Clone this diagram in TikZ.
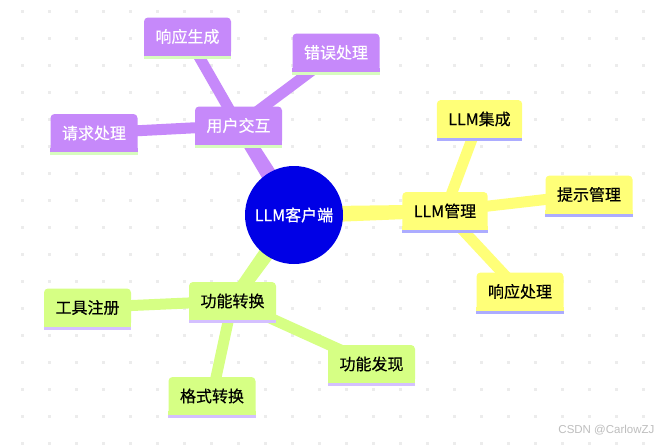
\documentclass[tikz,border=0pt]{standalone}
\usepackage{fontspec}
\newfontfamily\cjk[FakeBold=0.4]{Noto Sans CJK SC}
\newfontfamily\wmfont{Liberation Sans}
\usetikzlibrary{calc,backgrounds}
\definecolor{mpurple}{RGB}{198,137,250}
\definecolor{myellow}{RGB}{255,255,120}
\definecolor{mgreen}{RGB}{214,255,132}
\definecolor{ulgreen}{RGB}{215,252,190}
\definecolor{ullav}{RGB}{172,172,255}
\definecolor{ulpurp}{RGB}{212,192,255}
\definecolor{mblue}{RGB}{0,0,230}
\definecolor{dotgray}{RGB}{236,236,236}
\definecolor{wmgray}{RGB}{190,190,190}
\newcommand\mmtaper[5]{\fill[#5] ($(#1.center)!#3!90:(#2.center)$) -- ($(#1.center)!#3!-90:(#2.center)$) -- ($(#2.center)!#4!90:(#1.center)$) -- ($(#2.center)!#4!-90:(#1.center)$) -- cycle;}
\newcommand\mmunder[3]{\fill[#2] ([yshift=4pt]#1.south west) rectangle (#1.south east);
  \fill[#3] (#1.south west) rectangle ([yshift=-3pt]#1.south east);}
\begin{document}
\begin{tikzpicture}[x=1pt,y=-1pt,
  box/.style={rectangle, rounded corners=4pt, minimum height=38pt, inner xsep=11.5pt, inner ysep=0pt, font=\cjk\fontsize{16}{18}\selectfont},
  pbox/.style={box, fill=mpurple, text=white},
  ybox/.style={box, fill=myellow, text=black},
  gbox/.style={box, fill=mgreen, text=black},
  rootnode/.style={circle, fill=mblue, minimum size=98pt, inner sep=0pt, text=white, font=\cjk\fontsize{16}{18}\selectfont},
  childedge/.style={line width=11pt, line cap=butt}
]
\useasboundingbox (0,0) rectangle (664,445);

\node[rootnode] (root) at (294,215) {LLM客户端};

\node[pbox] (ui) at (238.5,125.5) {用户交互};
\node[pbox] (gen) at (187.5,36.5) {响应生成};
\node[pbox] (err) at (336,52.5) {错误处理};
\node[pbox] (req) at (94,133) {请求处理};

\node[ybox] (llm) at (445,211) {LLM管理};
\node[ybox] (integ) at (479.5,119) {LLM集成};
\node[ybox] (prompt) at (589,194.5) {提示管理};
\node[ybox] (resp) at (520,291.5) {响应处理};

\node[gbox] (func) at (232.5,301) {功能转换};
\node[gbox] (tool) at (87.5,307.5) {工具注册};
\node[gbox] (disc) at (371.5,364) {功能发现};
\node[gbox] (fmt) at (212,396) {格式转换};

\foreach \n in {ui,gen,err,req}{\mmunder{\n}{mpurple}{ulgreen}}
\foreach \n in {llm,integ,prompt,resp}{\mmunder{\n}{myellow}{ullav}}
\foreach \n in {func,tool,disc,fmt}{\mmunder{\n}{mgreen}{ulpurp}}

\node[font=\wmfont\fontsize{11.5}{13}\selectfont, text=wmgray, anchor=east] (wm) at (658,430) {CSDN @CarlowZJ};

\begin{pgfonlayer}{background}
  \fill[white] (0,0) rectangle (664,445);
  \foreach \i in {0,...,23}{
    \foreach \j in {0,...,16}{
      \fill[dotgray] (20.5+27*\i,9.5+27*\j) rectangle ++(3,3);
    }
  }
  \mmtaper{root}{ui}{8.5pt}{6.5pt}{mpurple}
  \mmtaper{root}{llm}{8.5pt}{6.5pt}{myellow}
  \mmtaper{root}{func}{8.5pt}{6.5pt}{mgreen}
  \draw[childedge, mpurple] (ui.center) -- (gen.center);
  \draw[childedge, mpurple] (ui.center) -- (err.center);
  \draw[childedge, mpurple] (ui.center) -- (req.center);
  \draw[childedge, myellow] (llm.center) -- (integ.center);
  \draw[childedge, myellow] (llm.center) -- (prompt.center);
  \draw[childedge, myellow] (llm.center) -- (resp.center);
  \draw[childedge, mgreen] (func.center) -- (tool.center);
  \draw[childedge, mgreen] (func.center) -- (disc.center);
  \draw[childedge, mgreen] (func.center) -- (fmt.center);
\end{pgfonlayer}
\end{tikzpicture}
\end{document}
